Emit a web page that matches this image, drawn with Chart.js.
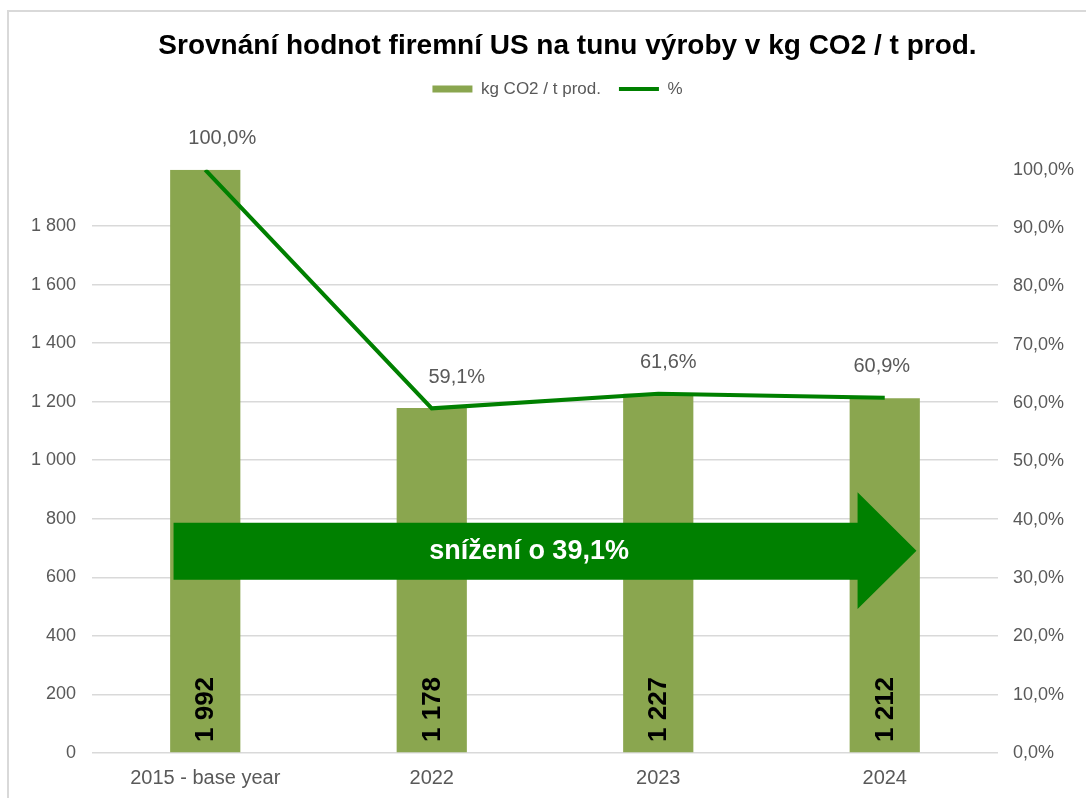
<!DOCTYPE html>
<html><head><meta charset="utf-8">
<script src="https://cdn.jsdelivr.net/npm/chart.js@4.4.1/dist/chart.umd.min.js"></script>
<style>
html,body{margin:0;padding:0;background:#fff;overflow:hidden;width:1086px;height:798px;}
#frame{position:absolute;left:7px;top:10px;width:1200px;height:900px;border:2px solid #d9d9d9;box-sizing:border-box;}
#wrap{position:absolute;left:7px;top:10px;width:1121px;height:800px;}
</style></head><body>
<div id="frame"></div>
<div id="wrap"><canvas id="c"></canvas></div>
<script>
// ---- data ----
const categories = ['2015 - base year', '2022', '2023', '2024'];
const emissions = [1992, 1178, 1227, 1212];          // kg CO2 / t prod.
const percentShare = [100.0, 59.1, 61.6, 60.9];      // %
const leftTicks = [0, 200, 400, 600, 800, 1000, 1200, 1400, 1600, 1800];
const rightTicks = [0, 10, 20, 30, 40, 50, 60, 70, 80, 90, 100];
const leftMax = 1992;
const rightMax = 100;
const titleText = 'Srovnání hodnot firemní US na tunu výroby v kg CO2 / t prod.';
const barLabel = 'kg CO2 / t prod.';
const lineLabel = '%';
const reductionText = 'snížení o 39,1%';

// ---- style ----
const FONT = '"Liberation Sans", Arial, Helvetica, sans-serif';
const GRAY = '#595959';
const BAR_COLOR = '#8aa64f';
const LINE_COLOR = '#008000';
const ARROW_COLOR = '#008000';
const lineLabelNudgeX = [17, 25, 10, -3];
const arrowSpec = {start: -0.14, head: 2.88, tip: 3.14, bodyLow: 29.7, bodyHigh: 39.5, headLow: 24.7, headHigh: 44.7, text: 1.43};

Chart.defaults.font.family = FONT;
Chart.defaults.color = GRAY;

const fmtThousands = v => String(v).replace(/\B(?=(\d{3})+(?!\d))/g, ' ');
const fmtPct = v => v.toFixed(1).replace('.', ',') + '%';

const overlayPlugin = {
  id: 'overlay',
  afterLayout(chart) {
    if (chart.legend) { chart.legend.left -= 10; chart.legend.right -= 10; }
  },
  afterDatasetsDraw(chart) {
    const ctx = chart.ctx;
    const xs = chart.scales.x, y1 = chart.scales.y1, y = chart.scales.y;
    const x0 = xs.getPixelForValue(0), step = xs.getPixelForValue(1) - x0;
    const ux = u => x0 + u * step;
    // arrow
    ctx.save();
    ctx.fillStyle = ARROW_COLOR;
    ctx.beginPath();
    ctx.moveTo(ux(arrowSpec.start), y1.getPixelForValue(arrowSpec.bodyHigh));
    ctx.lineTo(ux(arrowSpec.head), y1.getPixelForValue(arrowSpec.bodyHigh));
    ctx.lineTo(ux(arrowSpec.head), y1.getPixelForValue(arrowSpec.headHigh));
    ctx.lineTo(ux(arrowSpec.tip), y1.getPixelForValue((arrowSpec.headHigh + arrowSpec.headLow) / 2));
    ctx.lineTo(ux(arrowSpec.head), y1.getPixelForValue(arrowSpec.headLow));
    ctx.lineTo(ux(arrowSpec.head), y1.getPixelForValue(arrowSpec.bodyLow));
    ctx.lineTo(ux(arrowSpec.start), y1.getPixelForValue(arrowSpec.bodyLow));
    ctx.closePath();
    ctx.fill();
    ctx.fillStyle = '#ffffff';
    ctx.font = 'bold 27px ' + FONT;
    ctx.textAlign = 'center';
    ctx.textBaseline = 'middle';
    ctx.fillText(reductionText, ux(arrowSpec.text), y1.getPixelForValue((arrowSpec.bodyHigh + arrowSpec.bodyLow) / 2));
    ctx.restore();

    // bar value labels (rotated, at base)
    const barMeta = chart.getDatasetMeta(0);
    const base = y.getPixelForValue(0);
    ctx.save();
    ctx.fillStyle = '#000000';
    ctx.font = 'bold 26px ' + FONT;
    ctx.textAlign = 'left';
    ctx.textBaseline = 'middle';
    barMeta.data.forEach((el, i) => {
      ctx.save();
      ctx.translate(el.x, base - 11);
      ctx.rotate(-Math.PI / 2);
      ctx.fillText(fmtThousands(emissions[i]), 0, 1);
      ctx.restore();
    });
    ctx.restore();

    // line labels
    const lineMeta = chart.getDatasetMeta(1);
    ctx.save();
    ctx.fillStyle = GRAY;
    ctx.font = '20px ' + FONT;
    ctx.textAlign = 'center';
    ctx.textBaseline = 'middle';
    lineMeta.data.forEach((el, i) => {
      ctx.fillText(fmtPct(percentShare[i]), el.x + lineLabelNudgeX[i], el.y - 31);
    });
    ctx.restore();
  }
};

new Chart(document.getElementById('c'), {
  data: {
    labels: categories,
    datasets: [
      {
        type: 'bar', label: barLabel, data: emissions, yAxisID: 'y',
        backgroundColor: BAR_COLOR, borderWidth: 0,
        barPercentage: 0.31, categoryPercentage: 1.0, order: 1
      },
      {
        type: 'line', label: lineLabel, data: percentShare, yAxisID: 'y1',
        borderColor: LINE_COLOR, backgroundColor: LINE_COLOR, borderWidth: 4,
        pointRadius: 0, tension: 0, fill: false, order: 0
      }
    ]
  },
  options: {
    responsive: true,
    maintainAspectRatio: false,
    animation: false,
    events: [],
    layout: {padding: {top: 0, left: 0, right: 0, bottom: 0}},
    plugins: {
      tooltip: {enabled: false},
      title: {
        display: true, text: titleText, color: '#000000',
        font: {size: 28, weight: 'bold', family: FONT},
        padding: {top: 19, bottom: 0}
      },
      subtitle: {
        display: true, text: '', weight: 500, position: 'top',
        font: {size: 1}, padding: {top: 0, bottom: 61}
      },
      legend: {
        display: true, position: 'top',
        labels: {
          color: GRAY, font: {size: 17, family: FONT},
          usePointStyle: true, pointStyleWidth: 40, boxHeight: 7, padding: 18,
          generateLabels: chart => chart.data.datasets.map((ds, i) => ({
            text: ds.label, datasetIndex: i, hidden: false,
            fillStyle: ds.type === 'line' ? ds.borderColor : ds.backgroundColor,
            strokeStyle: ds.type === 'line' ? ds.borderColor : ds.backgroundColor,
            lineWidth: ds.type === 'line' ? 4 : 0,
            pointStyle: ds.type === 'line' ? 'line' : 'rect',
            fontColor: GRAY
          }))
        }
      }
    },
    scales: {
      x: {
        type: 'category', position: 'bottom', offset: true,
        grid: {display: false, drawTicks: false},
        border: {display: false},
        ticks: {color: GRAY, font: {size: 20}, padding: 13, maxRotation: 0, autoSkip: false},
        afterFit: s => { s.height = 57; }
      },
      y: {
        type: 'linear', position: 'left', min: 0, max: leftMax,
        grid: {color: '#d9d9d9', lineWidth: 1.5, drawTicks: false},
        border: {display: false},
        ticks: {color: GRAY, font: {size: 18}, padding: 16, callback: v => fmtThousands(v)},
        afterBuildTicks: s => { s.ticks = leftTicks.map(v => ({value: v})); },
        afterFit: s => { s.width = 85; }
      },
      y1: {
        type: 'linear', position: 'right', min: 0, max: rightMax,
        grid: {display: false, drawTicks: false},
        border: {display: false},
        ticks: {color: GRAY, font: {size: 18}, padding: 15, callback: v => fmtPct(v)},
        afterBuildTicks: s => { s.ticks = rightTicks.map(v => ({value: v})); },
        afterFit: s => { s.width = 130; }
      }
    }
  },
  plugins: [overlayPlugin]
});
</script>
</body></html>
